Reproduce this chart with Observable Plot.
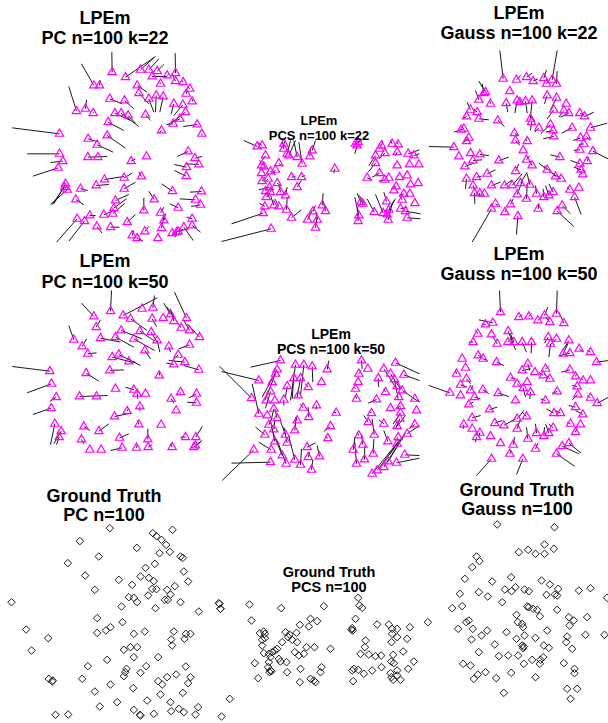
<!DOCTYPE html>
<html>
<head>
<meta charset="utf-8">
<script src="https://cdn.jsdelivr.net/npm/d3@7"></script>
<script src="https://cdn.jsdelivr.net/npm/@observablehq/plot@0.6"></script>
<style>
  html, body { margin: 0; padding: 0; background: #fff; }
  #root { position: relative; width: 608px; height: 723px; overflow: hidden; background: #fff; }
  .panel { position: absolute; pointer-events: none; }
  .panel svg { overflow: visible; }
  .ttl { position: absolute; width: 300px; text-align: center; white-space: nowrap;
         font-family: "Liberation Sans", Arial, Helvetica, sans-serif; font-weight: bold; color: #000; }
</style>
</head>
<body>
<div id="root"></div>
<script>
// ---- Data: estimated positions [x, y] with the end of their error segment [x2, y2] ----
const pc22 = [
[335,65,334,5],[375,80,465,18],[420,58,460,22],[445,58,475,25],[470,62,490,42],[455,78,500,78],
[500,75,505,70],[525,68,524,8],[525,92,515,70],[548,95,545,90],[568,115,560,108],[557,130,560,120],
[575,153,578,145],[480,100,478,95],[410,105,440,125],[415,128,445,160],[445,145,460,185],[467,135,465,185],
[488,138,478,185],[280,105,243,40],[297,105,300,90],[328,145,365,160],[372,150,400,175],[228,182,205,108],
[255,175,258,148],[278,188,280,185],[343,188,390,210],[362,188,415,228],[383,195,405,218],[435,193,450,210],
[520,160,512,190],[547,163,520,195],[555,185,515,215],[538,205,505,220],[518,220,498,222],[590,222,548,228],
[604,250,604,255],[483,240,475,248],[323,215,370,240],[177,250,35,232],[263,265,295,275],[320,255,375,293],
[290,283,338,305],[177,310,80,310],[187,332,150,336],[173,352,97,377],[262,320,320,318],[292,320,292,320],
[392,332,405,325],[438,318,438,318],[563,303,530,318],[583,323,605,318],[595,342,555,340],[558,350,522,342],
[557,377,522,360],[423,378,415,365],[371,382,395,368],[312,387,370,378],[195,400,160,460],[192,410,155,462],
[200,418,150,462],[240,415,262,420],[287,405,325,402],[371,415,405,395],[516,422,483,400],[603,423,568,425],
[585,448,538,445],[600,463,572,468],[533,472,508,460],[461,447,445,422],[430,480,430,442],[345,450,385,432],
[340,473,378,445],[337,490,373,458],[226,447,250,463],[310,493,340,480],[268,495,285,495],[230,505,168,575],
[252,512,205,572],[289,528,305,548],[330,530,357,530],[380,515,405,492],[480,487,490,470],[490,510,495,490],
[483,533,490,500],[433,543,445,528],[395,555,400,540],[410,563,428,572],[472,563,472,563],[515,548,540,540],
[533,543,560,535],[550,530,578,570],[575,505,558,500],[575,525,600,545],[528,545,525,560]
];
const pcs22 = [
[125,18,85,0],[140,15,125,5],[205,10,210,0],[205,25,200,0],[215,40,225,0],[220,45,240,0],[245,50,235,0],
[260,70,250,5],[283,48,285,20],[290,30,300,0],[150,45,140,60],[138,75,133,60],[145,78,150,70],[190,68,200,78],
[138,98,138,98],[165,93,180,103],[180,88,175,95],[158,115,148,125],[140,122,148,110],[185,128,195,135],
[162,140,130,148],[150,152,155,145],[165,155,170,140],[195,155,190,135],[210,165,215,140],[152,170,160,165],
[175,195,165,165],[190,198,178,175],[148,198,132,188],[213,208,215,170],[228,110,240,108],[258,110,268,105],
[245,140,258,120],[143,218,48,250],[167,265,18,303],[228,232,258,208],[276,238,290,210],[292,213,300,195],
[305,238,302,215],[300,262,305,230],[320,195,323,158],[330,212,322,180],[358,85,355,98],[420,10,435,0],
[428,5,440,0],[425,15,418,40],[498,15,502,0],[492,25,495,20],[530,10,525,0],[548,12,545,5],[545,35,540,45],
[480,45,460,75],[508,38,490,55],[480,68,458,95],[492,98,470,110],[455,112,470,118],[508,118,490,122],
[520,112,520,112],[552,110,552,110],[575,105,575,105],[545,75,545,75],[578,40,612,28],[595,45,612,40],
[582,72,582,72],[610,72,610,72],[585,132,585,132],[608,128,608,128],[542,138,528,145],[535,150,535,150],
[565,160,550,165],[583,160,583,160],[560,178,555,170],[598,188,598,188],[555,205,575,200],[570,212,615,220],
[575,232,615,235],[520,208,540,175],[515,222,535,180],[518,238,530,190],[503,218,480,162],[513,183,505,155],
[476,215,455,175],[436,185,425,158],[442,190,432,165],[430,225,418,170],[428,242,425,200]
];
const gauss22 = [
[248,85,238,0],[288,88,300,75],[318,80,335,68],[338,92,352,85],[370,83,378,58],[395,88,410,0],[378,100,385,90],
[408,100,410,62],[268,122,270,120],[257,158,262,185],[290,150,283,188],[298,155,300,150],[315,152,320,188],
[335,150,330,195],[210,160,207,150],[195,125,175,92],[190,128,185,100],[175,148,165,120],[380,135,372,160],
[408,142,390,178],[437,160,437,160],[400,178,380,205],[430,180,415,200],[445,188,420,200],[478,188,490,195],
[492,198,520,185],[150,178,140,155],[170,185,160,175],[175,205,205,208],[138,198,125,205],[232,210,252,228],
[330,205,330,190],[333,215,330,240],[355,232,343,245],[390,222,360,250],[398,240,375,245],[400,258,368,265],
[455,232,423,248],[510,232,560,218],[498,258,508,270],[480,262,458,270],[490,280,475,282],[130,235,100,245],
[122,238,122,238],[145,262,130,275],[138,272,140,268],[282,248,293,255],[285,270,298,285],[320,272,315,265],
[308,300,308,300],[100,290,25,288],[115,318,115,318],[150,308,150,308],[178,312,205,315],[157,330,185,328],
[133,348,160,338],[235,330,265,320],[318,328,328,315],[335,345,325,330],[418,320,390,313],[478,298,460,300],
[517,302,563,325],[500,332,505,320],[478,340,450,330],[482,358,460,350],[487,372,470,355],[380,358,355,338],
[405,378,370,345],[422,385,395,368],[200,370,225,358],[285,362,295,340],[168,380,183,377],[138,385,135,415],
[213,405,240,395],[252,405,275,388],[275,405,305,370],[300,398,320,365],[328,403,320,370],[158,405,165,420],
[162,428,163,460],[178,428,175,440],[192,430,192,430],[290,432,305,393],[318,445,320,400],[348,430,345,405],
[370,440,368,415],[385,435,375,405],[398,425,385,400],[448,418,440,410],[475,412,475,412],[462,440,482,492],
[225,460,232,465],[270,462,278,445],[353,475,355,460],[425,465,450,490],[410,482,460,528],[213,475,155,575],
[253,485,260,475],[292,497,288,552]
];
const pc50 = [
[330,62,333,0],[280,78,243,38],[287,110,300,88],[368,75,470,22],[425,55,425,55],[457,52,462,15],[455,85,468,108],
[390,85,440,120],[488,83,488,83],[510,72,490,38],[520,92,510,55],[558,83,522,5],[542,112,500,50],[567,120,550,90],
[597,140,560,100],[418,122,460,150],[452,125,470,155],[470,150,478,185],[362,120,425,145],[345,140,400,170],
[300,143,360,155],[400,145,462,180],[220,148,205,105],[245,168,258,145],[262,190,288,187],[335,200,395,215],
[355,192,420,225],[385,213,405,215],[433,180,450,205],[505,168,510,185],[533,193,515,210],[567,163,535,175],
[553,215,505,210],[520,222,498,218],[595,238,550,225],[328,240,370,238],[257,248,295,272],[148,242,35,228],
[476,255,478,245],[153,280,80,307],[167,320,148,333],[237,318,322,315],[288,318,288,318],[345,295,345,295],
[400,298,375,290],[410,310,412,325],[435,310,435,310],[512,325,520,338],[540,305,530,315],[588,310,565,322],
[588,337,560,335],[527,360,527,360],[152,353,97,372],[380,362,385,353],[418,348,418,362],[342,378,390,368],
[415,402,410,390],[482,403,482,403],[163,400,150,462],[182,422,160,460],[176,440,168,462],[250,408,268,420],
[295,422,325,400],[243,447,250,460],[357,442,385,430],[442,447,442,415],[555,440,540,440],[586,440,605,408],
[585,465,605,450],[268,478,268,478],[302,478,302,478],[365,472,330,480],[408,472,410,462],[443,470,455,462],
[515,470,510,460],[580,470,600,455]
];
const pcs50 = [
[195,15,105,35],[130,75,18,48],[108,128,12,32],[185,42,140,125],[180,55,148,135],[170,80,170,80],[165,108,150,158],
[152,135,152,135],[130,175,110,85],[155,180,155,180],[178,135,178,135],[175,160,168,190],[185,188,178,160],
[240,28,225,135],[265,28,255,120],[290,33,292,80],[235,68,230,130],[255,68,245,125],[248,120,248,120],
[215,92,210,125],[205,133,205,150],[278,95,270,85],[318,80,318,80],[263,157,255,145],[280,185,278,155],
[303,150,302,162],[362,172,355,170],[245,195,240,185],[238,225,242,185],[160,208,170,188],[175,222,178,195],
[148,238,120,215],[210,238,195,198],[178,258,165,195],[215,262,205,215],[167,283,130,260],[200,300,170,225],
[115,283,20,375],[165,320,48,323],[212,325,185,255],[238,313,220,242],[255,328,258,280],[275,275,300,262],
[278,305,282,290],[312,303,305,270],[288,343,292,312],[345,212,325,228],[337,248,330,243],[335,42,340,15],
[438,15,440,40],[457,40,457,40],[430,55,438,45],[428,80,428,80],[420,100,416,95],[423,130,420,120],
[488,68,490,95],[505,40,540,95],[510,110,505,100],[483,132,458,143],[540,22,612,55],[525,55,555,100],
[537,72,548,130],[545,92,545,92],[565,58,612,75],[560,105,612,140],[550,125,550,125],[598,130,598,130],
[555,152,540,160],[525,158,525,158],[555,172,533,205],[553,190,540,220],[603,165,603,165],[545,212,570,180],
[468,173,460,168],[458,200,445,180],[505,205,490,193],[598,207,580,220],[575,235,612,210],[548,245,540,255],
[430,240,425,230],[442,268,438,235],[413,283,418,245],[476,238,470,190],[473,295,475,250],[447,312,448,270],
[423,325,418,260],[517,258,505,225],[545,265,520,300],[568,298,612,300],[543,322,612,308],[518,318,570,232],
[505,335,565,240],[485,345,560,245],[470,355,555,250]
];
const gauss50 = [
[240,65,237,0],[295,80,305,72],[325,78,333,68],[352,90,365,78],[372,75,382,50],[388,95,375,80],[408,70,410,0],
[430,98,415,65],[217,97,175,88],[195,102,185,100],[172,130,165,118],[158,155,145,155],[213,132,213,132],
[230,160,215,135],[263,122,285,178],[262,155,275,140],[280,155,270,130],[305,155,318,185],[333,155,332,188],
[383,140,372,158],[408,145,388,165],[445,150,430,175],[390,160,385,200],[428,190,442,160],[448,188,418,195],
[476,175,488,185],[510,185,500,180],[528,215,565,210],[125,205,125,205],[188,205,200,210],[173,195,185,200],
[228,215,250,225],[322,220,328,240],[305,240,330,235],[343,245,343,245],[375,235,385,228],[368,255,355,245],
[388,265,370,250],[448,238,422,245],[465,258,468,250],[135,232,135,232],[108,250,105,240],[138,265,150,280],
[120,283,140,290],[150,300,158,285],[187,298,205,310],[270,262,285,265],[290,280,300,290],[320,275,320,275],
[308,293,315,320],[330,305,328,325],[88,307,25,285],[120,315,120,315],[162,320,180,325],[145,342,158,335],
[233,308,265,318],[285,330,285,330],[375,330,360,325],[410,303,395,308],[470,288,455,285],[488,270,480,262],
[510,270,510,270],[472,312,455,328],[510,322,500,315],[530,338,565,320],[465,350,445,345],[487,372,465,360],
[400,368,378,355],[420,368,405,360],[207,357,230,350],[290,385,310,360],[318,378,305,365],[155,382,180,375],
[130,402,128,415],[155,415,155,415],[223,398,245,390],[250,405,285,385],[290,415,300,385],[322,445,318,410],
[348,428,345,400],[370,437,372,410],[385,428,375,400],[398,412,385,400],[450,400,440,395],[480,402,480,402],
[465,425,470,410],[178,427,175,440],[168,440,165,455],[210,437,210,437],[240,458,240,458],[278,463,282,440],
[345,475,352,458],[425,467,475,490],[445,458,482,488],[408,490,462,527],[268,490,272,480],[213,505,168,555],
[307,505,288,552]
];
// ---- Ground truth positions [x, y] ----
const truthPC = [
[328,23],[516,28],[457,38],[468,47],[483,58],[497,73],[238,62],[409,82],[477,98],[508,94],[540,108],[547,112],
[295,108],[202,128],[463,130],[435,142],[550,153],[254,165],[355,178],[420,168],[445,172],[460,182],[563,183],
[395,193],[523,197],[468,206],[455,205],[283,208],[500,208],[510,222],[385,230],[400,232],[410,245],[443,225],
[493,238],[502,238],[540,245],[33,245],[363,258],[465,263],[655,248],[660,265],[595,273],[290,293],[366,305],
[77,327],[330,320],[316,330],[290,337],[520,333],[400,340],[433,333],[556,340],[570,340],[552,355],[143,353],
[512,357],[515,375],[93,390],[370,388],[390,380],[410,380],[400,410],[473,410],[320,418],[262,437],[378,445],
[374,455],[370,467],[437,437],[420,457],[556,438],[145,475],[157,480],[155,483],[245,475],[473,482],[485,492],
[500,470],[527,462],[570,470],[563,488],[330,492],[398,503],[283,513],[547,517],[480,522],[688,535],[350,545],
[440,540],[510,545],[298,558],[535,565],[550,575],[593,560],[400,568],[420,585],[418,583],[460,580],[512,572],
[585,582],[165,583],[203,582],[663,588]
];
const truthPCS = [
[12,40],[15,55],[102,42],[197,53],[325,47],[428,22],[432,45],[440,52],[108,90],[420,85],[285,85],[305,92],
[280,108],[253,103],[133,128],[145,123],[148,130],[140,148],[148,143],[210,125],[222,132],[218,140],[243,127],
[230,148],[245,155],[200,155],[140,165],[185,175],[178,180],[170,185],[160,190],[165,200],[145,188],[238,185],
[250,195],[265,190],[273,170],[297,170],[345,175],[190,205],[195,213],[160,215],[213,215],[118,218],[158,230],
[165,240],[162,245],[168,242],[215,245],[128,263],[255,235],[318,230],[315,245],[253,275],[285,265],[295,270],
[300,275],[410,113],[412,120],[408,118],[485,102],[520,102],[530,115],[545,115],[583,110],[530,130],[528,155],
[545,140],[575,145],[450,150],[435,190],[448,170],[460,192],[480,197],[497,195],[533,193],[563,183],[595,213],
[527,213],[535,218],[498,230],[470,240],[445,250],[415,235],[428,238],[410,240],[413,272],[525,248],[528,260],
[545,240],[545,255],[533,268],[555,268],[578,235]
];
const truthGauss = [
[230,12],[402,20],[295,95],[323,88],[345,100],[372,72],[372,100],[400,85],[168,108],[177,122],[155,140],[133,175],
[215,183],[272,170],[118,220],[175,215],[202,228],[253,207],[273,212],[285,200],[312,207],[325,212],[363,180],
[388,192],[413,205],[378,223],[403,222],[410,225],[475,210],[510,203],[560,232],[95,263],[125,257],[245,245],
[320,258],[325,260],[338,265],[350,268],[358,287],[410,268],[288,283],[445,290],[460,300],[500,290],[22,305],
[137,305],[145,300],[113,325],[157,325],[200,330],[183,345],[292,305],[305,310],[308,320],[312,345],[380,330],
[447,315],[495,343],[552,343],[153,357],[258,335],[288,355],[345,352],[440,348],[223,372],[305,375],[310,378],
[308,383],[370,375],[385,382],[437,365],[455,385],[175,395],[235,407],[263,405],[293,405],[335,418],[360,418],
[368,410],[358,430],[310,430],[128,430],[150,435],[430,428],[462,445],[462,458],[195,455],[172,462],[160,475],
[227,473],[272,457],[345,470],[250,517],[440,505],[470,505],[450,535]
];

// ---- Titles ----
const titleLines = [
  ["LPEm", "PC n=100 k=22"], ["LPEm", "PCS n=100 k=22"], ["LPEm", "Gauss n=100 k=22"],
  ["LPEm", "PC n=100 k=50"], ["LPEm", "PCS n=100 k=50"], ["LPEm", "Gauss n=100 k=50"],
  ["Ground Truth", "PC n=100"], ["Ground Truth", "PCS n=100"], ["Ground Truth", "Gauss n=100"]
];

// ---- Layout (page placement of each panel) ----
const layout = [
  {data: pc22,    kind: "est", left: 0,   top: 50,  w: 215, h: 195, t: {cx: 105, b: 25,  fs: 18,   gap: 20}},
  {data: pcs22,   kind: "est", left: 215, top: 140, w: 205, h: 110, t: {cx: 319, b: 125, fs: 13,   gap: 15}},
  {data: gauss22, kind: "est", left: 420, top: 50,  w: 188, h: 195, t: {cx: 519, b: 20,  fs: 18,   gap: 20}},
  {data: pc50,    kind: "est", left: 0,   top: 290, w: 215, h: 160, t: {cx: 105, b: 268, fs: 18,   gap: 21}},
  {data: pcs50,   kind: "est", left: 215, top: 355, w: 205, h: 130, t: {cx: 331, b: 339, fs: 14,   gap: 15}},
  {data: gauss50, kind: "est", left: 420, top: 290, w: 188, h: 185, t: {cx: 519, b: 261, fs: 18,   gap: 20}},
  {data: truthPC,    kind: "gt", left: 0,   top: 520, w: 240, h: 200, t: {cx: 104, b: 503, fs: 18,   gap: 19}},
  {data: truthPCS,   kind: "gt", left: 215, top: 590, w: 205, h: 100, t: {cx: 329, b: 577, fs: 14.5, gap: 15}},
  {data: truthGauss, kind: "gt", left: 420, top: 520, w: 188, h: 180, t: {cx: 517, b: 497, fs: 18,   gap: 19}}
];

const root = document.getElementById("root");

layout.forEach((p, i) => {
  const marks = p.kind === "est"
    ? [
        Plot.link(p.data, {x1: d => d[0], y1: d => d[1], x2: d => d[2], y2: d => d[3],
                           stroke: "#1a1a1a", strokeWidth: 1}),
        Plot.dot(p.data, {x: d => d[0], y: d => d[1], symbol: "triangle", r: 3.1,
                          fill: "none", stroke: "#ff00ff", strokeWidth: 1.2})
      ]
    : [
        Plot.dot(p.data, {x: d => d[0], y: d => d[1], symbol: "diamond2", r: 3.4,
                          fill: "none", stroke: "#1a1a1a", strokeWidth: 1})
      ];
  const chart = Plot.plot({
    width: p.w, height: p.h, margin: 0,
    x: {domain: [0, p.w * 3], axis: null},
    y: {domain: [0, p.h * 3], reverse: true, axis: null},
    style: {background: "transparent", overflow: "visible"},
    marks
  });
  const holder = document.createElement("div");
  holder.className = "panel";
  holder.style.left = p.left + "px";
  holder.style.top = p.top + "px";
  holder.style.width = p.w + "px";
  holder.style.height = p.h + "px";
  holder.appendChild(chart);
  root.appendChild(holder);

  titleLines[i].forEach((line, j) => {
    const d = document.createElement("div");
    d.className = "ttl";
    d.textContent = line;
    const fs = p.t.fs;
    const lh = 0.75 * fs;
    d.style.fontSize = fs + "px";
    d.style.lineHeight = lh + "px";
    d.style.left = (p.t.cx - 150) + "px";
    d.style.top = (p.t.b + j * p.t.gap - ((lh - 1.117 * fs) / 2 + 0.905 * fs)) + "px";
    root.appendChild(d);
  });
});
</script>
</body>
</html>
